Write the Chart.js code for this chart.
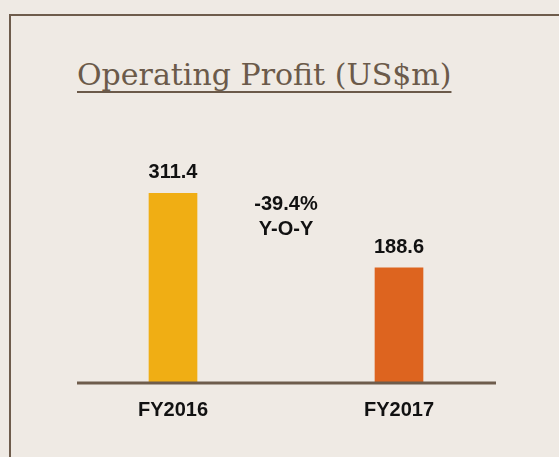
<!DOCTYPE html>
<html>
<head>
<meta charset="utf-8">
<script src="https://cdn.jsdelivr.net/npm/chart.js@4.4.1/dist/chart.umd.min.js"></script>
<style>
  html, body { margin: 0; padding: 0; }
  body { width: 559px; height: 457px; background: #efeae4; position: relative; overflow: hidden; }
  .frame { position: absolute; left: 9px; top: 14px; right: -10px; bottom: -10px;
           border-top: 2px solid #6e5c4c; border-left: 2px solid #6e5c4c; }
  .title { position: absolute; left: 77px; top: 55px; font-family: "DejaVu Serif", serif;
           font-size: 30px; line-height: 40px; color: #6b5a4a; white-space: nowrap;
           text-decoration: underline; text-decoration-thickness: 2px; text-underline-offset: 6px;
           text-decoration-skip-ink: none; }
  #wrap { position: absolute; left: 0; top: 0; width: 559px; height: 457px; }
</style>
</head>
<body>
<div class="frame"></div>
<div class="title">Operating Profit (US$m)</div>
<div id="wrap"><canvas id="profit-chart"></canvas></div>
<script>
// chart data
var years = ['FY2016', 'FY2017'];
var profit = [311.4, 188.6];
var barColors = ['#f0ae14', '#dd641f'];

var yoy = ((profit[1] - profit[0]) / profit[0] * 100).toFixed(1) + '%';

////// value labels, baseline and Y-O-Y note /////////
const extras = {
  id: 'extras',
  afterDatasetsDraw: function(chart) {
    const ctx = chart.ctx;
    const area = chart.chartArea;
    const y0 = chart.scales.y.getPixelForValue(0);
    ctx.save();
    // baseline
    ctx.strokeStyle = '#6e5c4c';
    ctx.lineWidth = 3;
    ctx.beginPath();
    ctx.moveTo(area.left + 17, y0 + 1);
    ctx.lineTo(area.right - 16, y0 + 1);
    ctx.stroke();

    ctx.fillStyle = '#111111';
    ctx.font = 'bold 20px "Liberation Sans", Arial, sans-serif';
    ctx.textAlign = 'center';
    ctx.textBaseline = 'alphabetic';
    const bars = chart.getDatasetMeta(0).data;
    bars.forEach(function(bar, i) {
      ctx.fillText(profit[i].toFixed(1), bar.x, bar.y - 15);
    });
    const midX = (bars[0].x + bars[1].x) / 2;
    ctx.fillText(yoy, midX, bars[0].y + 17);
    ctx.fillText('Y-O-Y', midX, bars[0].y + 42);
    ctx.restore();
  }
};

const ctx_profit = document.getElementById('profit-chart');
new Chart(ctx_profit, {
  type: 'bar',
  data: {
    labels: years,
    datasets: [{
      label: 'Operating Profit',
      backgroundColor: barColors,
      data: profit,
      barThickness: 48,
      borderWidth: 0
    }]
  },
  options: {
    responsive: true,
    maintainAspectRatio: false,
    animation: false,
    layout: {
      padding: { left: 60, right: 47, top: 170, bottom: 19 }
    },
    plugins: {
      legend: { display: false },
      tooltip: { enabled: false }
    },
    scales: {
      x: {
        grid: { display: false, drawTicks: false },
        border: { display: false },
        ticks: {
          padding: 16,
          color: '#111111',
          font: { family: '"Liberation Sans", Arial, sans-serif', size: 20, weight: 'bold' }
        }
      },
      y: {
        display: false,
        min: 0,
        max: 350
      }
    }
  },
  plugins: [extras]
});
</script>
</body>
</html>
